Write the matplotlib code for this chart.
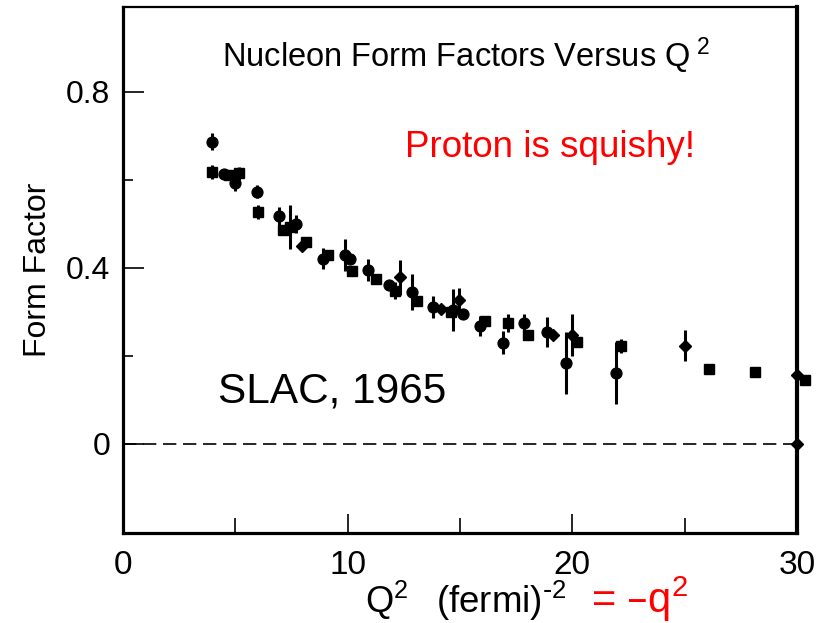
import matplotlib
matplotlib.use('Agg')
import matplotlib.pyplot as plt
from matplotlib import font_manager

names = {f.name for f in font_manager.fontManager.ttflist}
SANS = 'Liberation Sans' if 'Liberation Sans' in names else 'DejaVu Sans'
plt.rcParams['font.family'] = [SANS, 'DejaVu Sans']
plt.rcParams['mathtext.default'] = 'regular'

# ---- data ----
circle_q2 = [3.97, 4.50, 4.98, 5.95, 6.96, 7.70, 8.92, 9.88, 10.10, 10.89, 11.85,
             12.85, 13.81, 14.67, 15.15, 15.89, 16.90, 17.85, 18.86, 19.72, 21.93]
circle_ff = [0.687, 0.613, 0.592, 0.573, 0.518, 0.499, 0.421, 0.429, 0.419, 0.395, 0.361,
             0.345, 0.310, 0.304, 0.295, 0.267, 0.230, 0.274, 0.255, 0.183, 0.161]
circle_err = [0.020, 0.0, 0.017, 0.015, 0.020, 0.020, 0.023, 0.036, 0.0, 0.025, 0.0,
              0.040, 0.025, 0.047, 0.0, 0.023, 0.027, 0.020, 0.034, 0.070, 0.070]

square_q2 = [3.97, 4.70, 5.18, 6.02, 7.13, 7.43, 8.14, 9.14, 10.18, 11.26, 12.10,
             13.07, 14.60, 16.11, 17.15, 18.04, 20.22, 22.15, 26.08, 28.13, 30.35]
square_ff = [0.618, 0.610, 0.615, 0.527, 0.487, 0.493, 0.459, 0.429, 0.392, 0.374, 0.348,
             0.324, 0.300, 0.280, 0.274, 0.247, 0.232, 0.222, 0.171, 0.162, 0.145]
square_err = [0.015, 0.0, 0.015, 0.015, 0.0, 0.050, 0.0, 0.0, 0.0, 0.0, 0.020,
              0.0, 0.0, 0.0, 0.020, 0.0, 0.0, 0.015, 0.0, 0.0, 0.0]

diamond_q2 = [7.95, 12.33, 14.14, 14.97, 19.12, 19.97, 25.00, 29.98, 29.98]
diamond_ff = [0.450, 0.378, 0.307, 0.327, 0.247, 0.247, 0.223, 0.156, 0.000]
diamond_err = [0.0, 0.040, 0.0, 0.028, 0.0, 0.047, 0.036, 0.0, 0.0]

x_ticks = [0, 10, 20, 30]
x_minor = [5, 15, 25]
y_ticks = [0, 0.4, 0.8]
y_minor = [0.2, 0.6]
y_ticklabels = ['0', '0.4', '0.8']

W, H = 823, 623
fig = plt.figure(figsize=(W / 100, H / 100), dpi=100)
ax = fig.add_axes([123 / W, 1 - 533 / H, (797 - 123) / W, (533 - 7) / H])

common = dict(color='black', ecolor='black', elinewidth=2.2, capsize=0,
              linestyle='none', clip_on=False, zorder=3)
ax.errorbar(circle_q2, circle_ff, yerr=circle_err, marker='o', ms=7.8, **common)
ax.errorbar(square_q2, square_ff, yerr=square_err, marker='s', ms=7.0, **common)
ax.errorbar(diamond_q2, diamond_ff, yerr=diamond_err, marker='D', ms=6.6, **common)

ax.plot([0, 30], [0, 0], color='black', lw=1.2, dashes=(8, 4), zorder=2)

ax.set_xlim(0, 30)
ax.set_ylim(-0.203, 0.993)

ax.set_xticks(x_ticks)
ax.set_xticks(x_minor, minor=True)
ax.set_yticks(y_ticks)
ax.set_yticks(y_minor, minor=True)
ax.set_yticklabels(y_ticklabels)
ax.set_xticklabels([str(v) for v in x_ticks])

ax.tick_params(axis='both', which='both', direction='in', width=1.2, color='black')
ax.tick_params(axis='y', which='major', length=15, labelsize=23, pad=9)
ax.tick_params(axis='y', which='minor', length=7)
ax.tick_params(axis='x', which='major', length=14, labelsize=24, pad=12)
ax.tick_params(axis='x', which='minor', length=11)

ax.spines['left'].set_linewidth(2.3)
ax.spines['bottom'].set_linewidth(2.3)
ax.spines['right'].set_linewidth(3.0)
ax.spines['top'].set_linewidth(1.6)

# texts
fig.text(222 / W, 1 - 67 / H, 'Nucleon Form Factors Versus Q$^{\\;2}$',
         ha='left', va='baseline', fontsize=23.5)
fig.text(405 / W, 1 - 157 / H, 'Proton is squishy!', color='red',
         ha='left', va='baseline', fontsize=26.5)
fig.text(218 / W, 1 - 403 / H, 'SLAC, 1965', color='black',
         ha='left', va='baseline', fontsize=30.5)
fig.text(38 / W, 1 - 270 / H, 'Form Factor', rotation=90,
         ha='center', va='center', fontsize=23)
fig.text(365 / W, 1 - 613 / H, 'Q$^2$',
         ha='left', va='baseline', fontsize=26)
fig.text(436 / W, 1 - 613 / H, '(fermi)$^{\\text{-}2}$',
         ha='left', va='baseline', fontsize=26.5)
fig.text(591 / W, 1 - 613 / H, '= \u2013q$^2$', color='red',
         ha='left', va='baseline', fontsize=30)

fig.savefig('out.png', dpi=100)
